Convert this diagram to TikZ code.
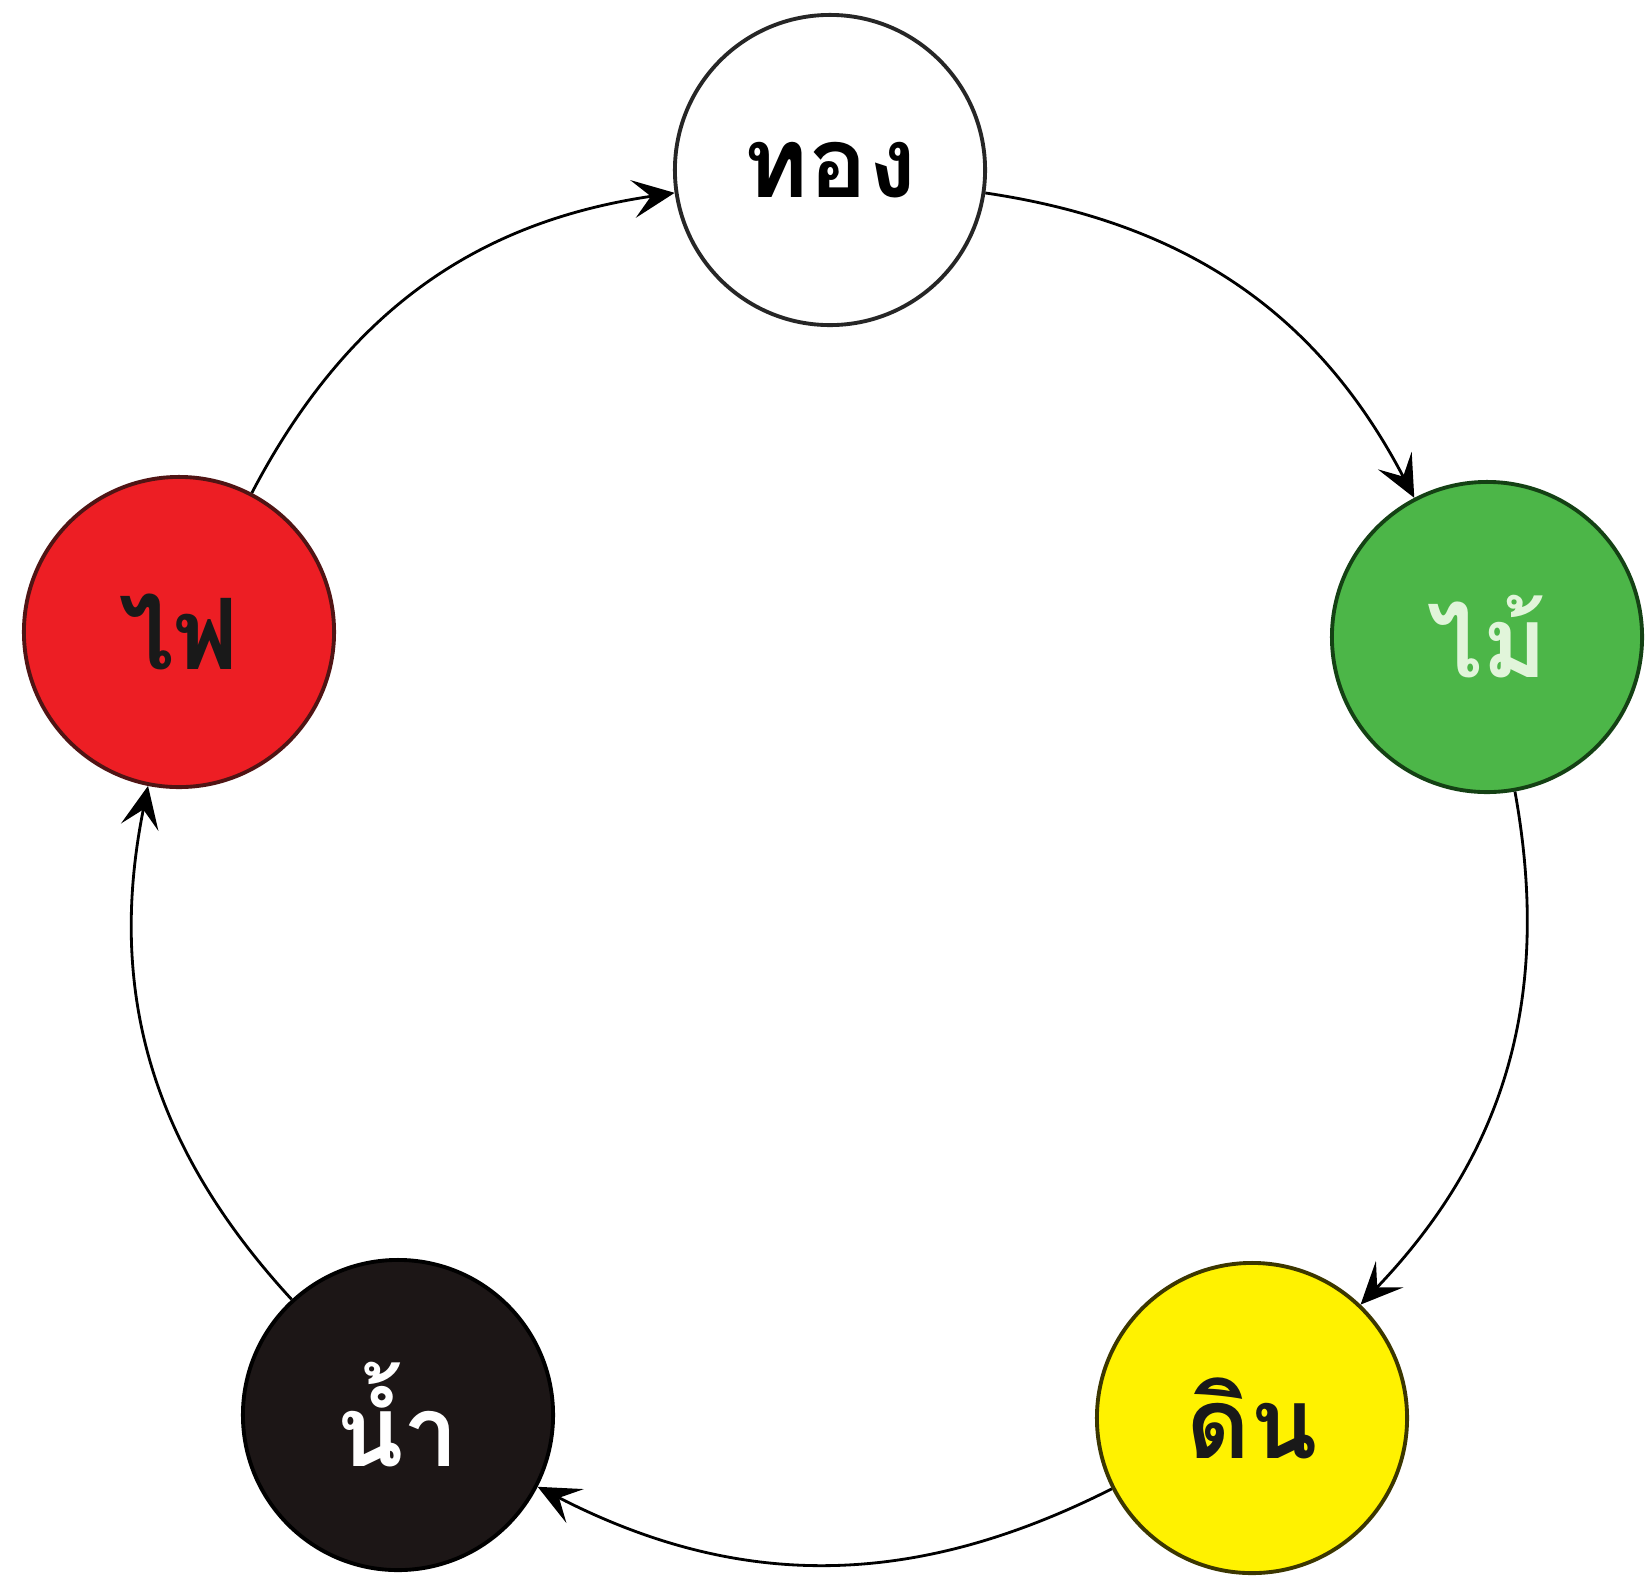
\documentclass[tikz,border=0pt]{standalone}
\usepackage{fontspec}
\newfontfamily\thaifont[Script=Thai]{Loma}
\usepackage{tikz}
\usepackage{xcolor}
\usetikzlibrary{arrows.meta}

\definecolor{firered}{RGB}{237,30,36}
\definecolor{firerim}{RGB}{80,20,20}
\definecolor{woodgreen}{RGB}{76,182,72}
\definecolor{woodrim}{RGB}{20,65,20}
\definecolor{woodtext}{RGB}{225,245,218}
\definecolor{earthyellow}{RGB}{255,242,0}
\definecolor{earthrim}{RGB}{60,55,0}
\definecolor{waterblack}{RGB}{28,22,22}

\begin{document}
\begin{tikzpicture}[x=0.01cm,y=-0.01cm,
    element/.style={circle,minimum size=3.1cm,inner sep=0pt,line width=1.1pt,
      font=\thaifont\bfseries\fontsize{28}{30}\selectfont},
    cycle/.style={-{Stealth[length=4.2mm,width=3.8mm,inset=1.8mm]},line width=0.8pt,bend left=27}]
        \useasboundingbox (0,0) rectangle (1645,1578);

        % the five elements
        \node[element,draw=black!85,fill=white] (metal) at (830,170) {ทอง};
        \node[element,draw=woodrim,fill=woodgreen,text=woodtext] (wood) at (1487,637) {ไม้};
        \node[element,draw=earthrim,fill=earthyellow,text=black!90] (earth) at (1252,1418) {ดิน};
        \node[element,draw=black,fill=waterblack,text=white] (water) at (398,1415) {น้ำ};
        \node[element,draw=firerim,fill=firered,text=black!90] (fire) at (179,632) {ไฟ};

        % cycle arrows
        \draw[cycle] (metal) to (wood);
        \draw[cycle] (wood) to (earth);
        \draw[cycle] (earth) to (water);
        \draw[cycle] (water) to (fire);
        \draw[cycle] (fire) to (metal);
\end{tikzpicture}
\end{document}
